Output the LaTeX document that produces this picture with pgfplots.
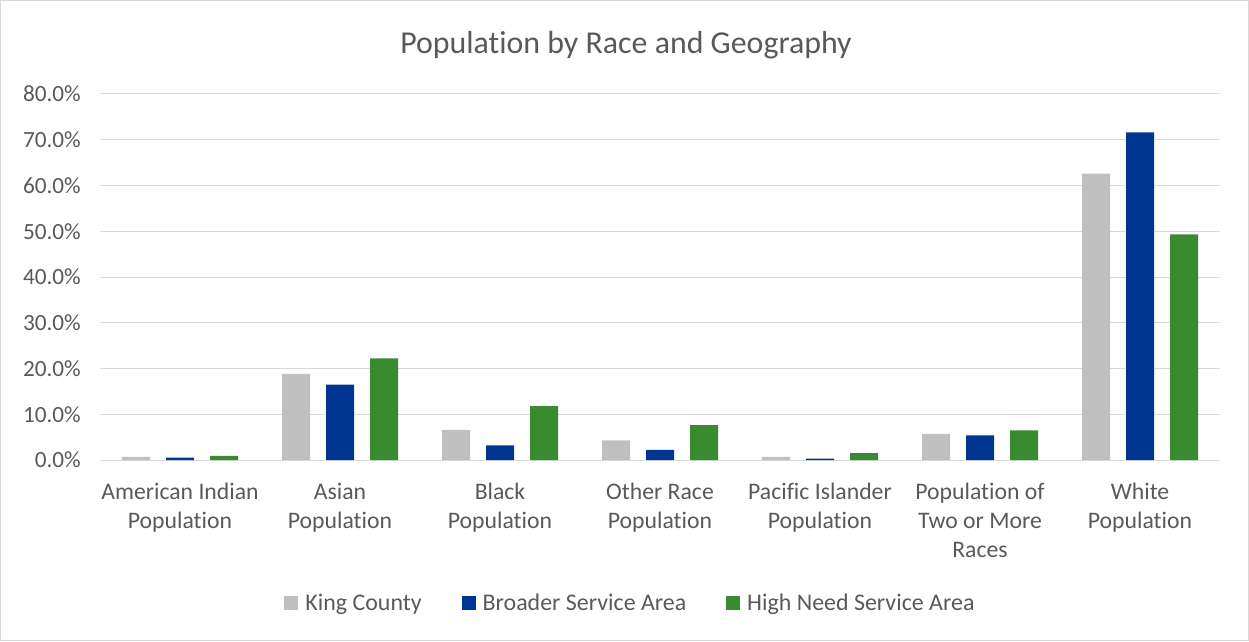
\documentclass[border=0pt]{standalone}
\usepackage{pgfplots}
\pgfplotsset{compat=1.18}
\usepackage{fontspec}
\setmainfont{Carlito}[Ligatures=NoCommon]
\definecolor{txt}{HTML}{595959}
\definecolor{gridc}{HTML}{D9D9D9}
\definecolor{kc}{HTML}{BFBFBF}
\definecolor{bsa}{HTML}{003591}
\definecolor{hn}{HTML}{3A8A32}
\pgfplotsset{sq legend/.style={legend image code/.code={\fill[##1] (0bp,-7bp) rectangle (14bp,7bp);}}}
\begin{document}
\begin{tikzpicture}
\begin{axis}[
    name=ax,
    scale only axis,
    width=1120bp, height=366bp,
    xmin=-0.5, xmax=6.5,
    ymin=0, ymax=80,
    ybar=16bp, bar width=28bp,
    axis x line*=bottom, axis y line*=left,
    x axis line style={draw=gridc, line width=1bp, -},
    y axis line style={draw=none},
    ymajorgrids, grid style={gridc, line width=1bp},
    major tick length=0pt,
    xtick=data,
    xticklabels={American Indian\\Population, Asian\\Population, Black\\Population,
                 Other Race\\Population, Pacific Islander\\Population,
                 Population of\\Two or More\\Races, White\\Population},
    xticklabel style={align=center, font=\fontsize{23.8}{29}\selectfont, text=txt,
                      anchor=north, inner sep=0pt, yshift=-23bp},
    ytick={0,10,...,80},
    yticklabels={0.0\%,10.0\%,20.0\%,30.0\%,40.0\%,50.0\%,60.0\%,70.0\%,80.0\%},
    yticklabel style={font=\fontsize{23.3}{28}\selectfont, text=txt,
                      anchor=east, inner sep=0pt, xshift=-19bp},
    title={Population by Race and Geography},
    title style={font=\fontsize{32}{38}\selectfont, text=txt, at={(0.4696,1)},
                 anchor=center, yshift=43bp},
    legend columns=3,
    legend style={draw=none, fill=none, at={(0.4736,0)}, anchor=center,
                  yshift=-143bp, font=\fontsize{24}{28}\selectfont, text=txt,
                  /tikz/every odd column/.append style={column sep=5bp},
                  /tikz/every even column/.append style={column sep=38bp}},
]
\addplot[fill=kc, draw=none, sq legend] coordinates {
    (0,0.7) (1,18.8) (2,6.6) (3,4.3) (4,0.7) (5,5.7) (6,62.6)};
\addplot[fill=bsa, draw=none, sq legend] coordinates {
    (0,0.5) (1,16.5) (2,3.2) (3,2.2) (4,0.3) (5,5.4) (6,71.6)};
\addplot[fill=hn, draw=none, sq legend] coordinates {
    (0,0.9) (1,22.2) (2,11.8) (3,7.6) (4,1.5) (5,6.5) (6,49.3)};
\legend{King County, Broader Service Area, High Need Service Area}
\end{axis}
\draw[gridc, line width=1bp] ([shift={(-99.5bp,-180.5bp)}]ax.south west)
    rectangle ([shift={(28.5bp,93.5bp)}]ax.north east);
\end{tikzpicture}
\end{document}
